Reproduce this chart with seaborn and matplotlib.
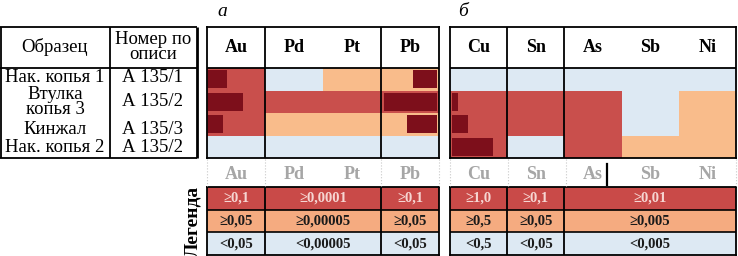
import numpy as np
import pandas as pd
import seaborn as sns
import matplotlib.pyplot as plt
from matplotlib.colors import ListedColormap

# Данные
samples = ['Нак. копья 1', 'Втулка\nкопья 3', 'Кинжал', 'Нак. копья 2']
inventory = ['А 135/1', 'А 135/2', 'А 135/3', 'А 135/2']

elements_a = ['Au', 'Pd', 'Pt', 'Pb']
elements_b = ['Cu', 'Sn', 'As', 'Sb', 'Ni']

# уровни: 0 - ниже порога, 1 - средний, 2 - высокий
levels_a = [[2, 0, 1, 1],
            [2, 2, 2, 2],
            [2, 1, 1, 1],
            [0, 0, 0, 0]]
levels_b = [[0, 0, 0, 0, 0],
            [2, 2, 2, 0, 1],
            [2, 2, 2, 0, 1],
            [2, 0, 2, 1, 1]]

# тёмные полосы (доля ширины ячейки)
au_bar = [0.33, 0.60, 0.26, 0.0]
pb_bar = [0.41, 0.91, 0.52, 0.0]
cu_bar = [0.0, 0.10, 0.28, 0.72]

# легенда
groups_a = [(0, 1), (1, 3), (3, 4)]
groups_b = [(0, 1), (1, 2), (2, 5)]
legend_hi = ['≥0,1', '≥0,0001', '≥0,1', '≥1,0', '≥0,1', '≥0,01']
legend_mid = ['≥0,05', '≥0,00005', '≥0,05', '≥0,5', '≥0,05', '≥0,005']
legend_lo = ['<0,05', '<0,00005', '<0,05', '<0,5', '<0,05', '<0,005']

colors = ['#dde9f3', '#f9bc8b', '#c94f4c']
dark = '#7d0f1b'
cmap = ListedColormap(colors)
cmap_leg = ListedColormap(['#dde9f3', '#f5ab80', '#c94a48'])

plt.rcParams['font.family'] = ['Liberation Serif', 'DejaVu Serif']

W, H = 738, 256
fig = plt.figure(figsize=(W / 100, H / 100), dpi=100)


def place(x0, y0, x1, y1):
    return [x0 / W, 1 - y1 / H, (x1 - x0) / W, (y1 - y0) / H]


def frame(ax, lw=1.3):
    for s in ax.spines.values():
        s.set_visible(True)
        s.set_linewidth(lw)
        s.set_color('black')


rows = np.arange(4) + 0.5
head = -41 / 22.5

# панель а
ax_a = fig.add_axes(place(207, 27, 439, 158))
df_a = pd.DataFrame(levels_a, index=samples, columns=elements_a)
sns.heatmap(df_a, cmap=cmap, vmin=-0.5, vmax=2.5, cbar=False, ax=ax_a,
            xticklabels=False, yticklabels=False)
ax_a.barh(rows, au_bar, left=0.02, height=0.82, color=dark)
ax_a.barh(rows, pb_bar, left=4 - np.array(pb_bar) - 0.03, height=0.82, color=dark)
ax_a.set_ylim(4, head)
ax_a.axhline(0, color='black', lw=1.3)
for x in [1, 3]:
    ax_a.axvline(x, color='black', lw=1.3)
for i, el in enumerate(elements_a):
    ax_a.text(i + 0.5, head / 2, el, ha='center', va='center',
              fontsize=13, fontweight='bold')
frame(ax_a)

# панель б
ax_b = fig.add_axes(place(450, 27, 736, 158))
df_b = pd.DataFrame(levels_b, index=samples, columns=elements_b)
sns.heatmap(df_b, cmap=cmap, vmin=-0.5, vmax=2.5, cbar=False, ax=ax_b,
            xticklabels=False, yticklabels=False)
ax_b.barh(rows, cu_bar, left=0.04, height=0.82, color=dark)
ax_b.set_ylim(4, head)
ax_b.axhline(0, color='black', lw=1.3)
for x in [1, 2]:
    ax_b.axvline(x, color='black', lw=1.3)
for i, el in enumerate(elements_b):
    ax_b.text(i + 0.5, head / 2, el, ha='center', va='center',
              fontsize=13, fontweight='bold')
frame(ax_b)

# легенда
leg_specs = [(place(207, 187, 439, 255), elements_a, groups_a, 0),
             (place(450, 187, 736, 255), elements_b, groups_b, 3)]
for pos, els, groups, k in leg_specs:
    ax = fig.add_axes(pos)
    n = len(els)
    sns.heatmap(np.array([[2] * n, [1] * n, [0] * n]), cmap=cmap_leg,
                vmin=-0.5, vmax=2.5, cbar=False, ax=ax,
                xticklabels=False, yticklabels=False)
    for y in [1, 2]:
        ax.axhline(y, color='black', lw=1.2)
    for g0, g1 in groups[:-1]:
        ax.axvline(g1, color='black', lw=1.3)
    for j, (g0, g1) in enumerate(groups):
        xc = (g0 + g1) / 2
        ax.text(xc, 0.5, legend_hi[k + j], ha='center', va='center',
                fontsize=10.5, fontweight='bold', color='#f6d6d2')
        ax.text(xc, 1.5, legend_mid[k + j], ha='center', va='center',
                fontsize=10.5, fontweight='bold', color='#1a1a1a')
        ax.text(xc, 2.5, legend_lo[k + j], ha='center', va='center',
                fontsize=10.5, fontweight='bold', color='#1a1a1a')
    for i, el in enumerate(els):
        ax.text(i + 0.5, -0.57, el, ha='center', va='center', fontsize=13,
                fontweight='bold', color='#a6a6a6', clip_on=False)
    frame(ax)

# таблица слева и подписи
over = fig.add_axes([0, 0, 1, 1], facecolor='none')
over.set_xlim(0, W)
over.set_ylim(H, 0)
over.axis('off')
over.hlines([27, 68, 158], 0, 197, color='black', lw=1.3)
over.vlines([1, 110], 27, 158, color='black', lw=1.3)
over.vlines([197], 27, 158, color='black', lw=2)
over.vlines([207, 265, 381, 439, 450, 508, 566, 736], 159, 186,
            color='#c8c8c8', lw=0.8, linestyles=':')
over.plot([607, 607], [164, 185], color='black', lw=1.6)

over.text(55, 47, 'Образец', ha='center', va='center', fontsize=13.5)
over.text(153, 47, 'Номер по\nописи', ha='center', va='center', fontsize=13.5,
          linespacing=0.85)
sample_y = [78, 102, 129, 148]
for s, inv, y in zip(samples, inventory, sample_y):
    over.text(55, y, s, ha='center', va='center', fontsize=13.5, linespacing=0.8)
    over.text(153, y, inv, ha='center', va='center', fontsize=13.5)

over.text(222, 12, 'а', ha='center', va='center', fontsize=14, style='italic')
over.text(463, 12, 'б', ha='center', va='center', fontsize=14, style='italic')
over.text(193, 221, 'Легенда', ha='center', va='center', fontsize=14,
          fontweight='bold', rotation=90)

fig.savefig('out.png', dpi=100)
